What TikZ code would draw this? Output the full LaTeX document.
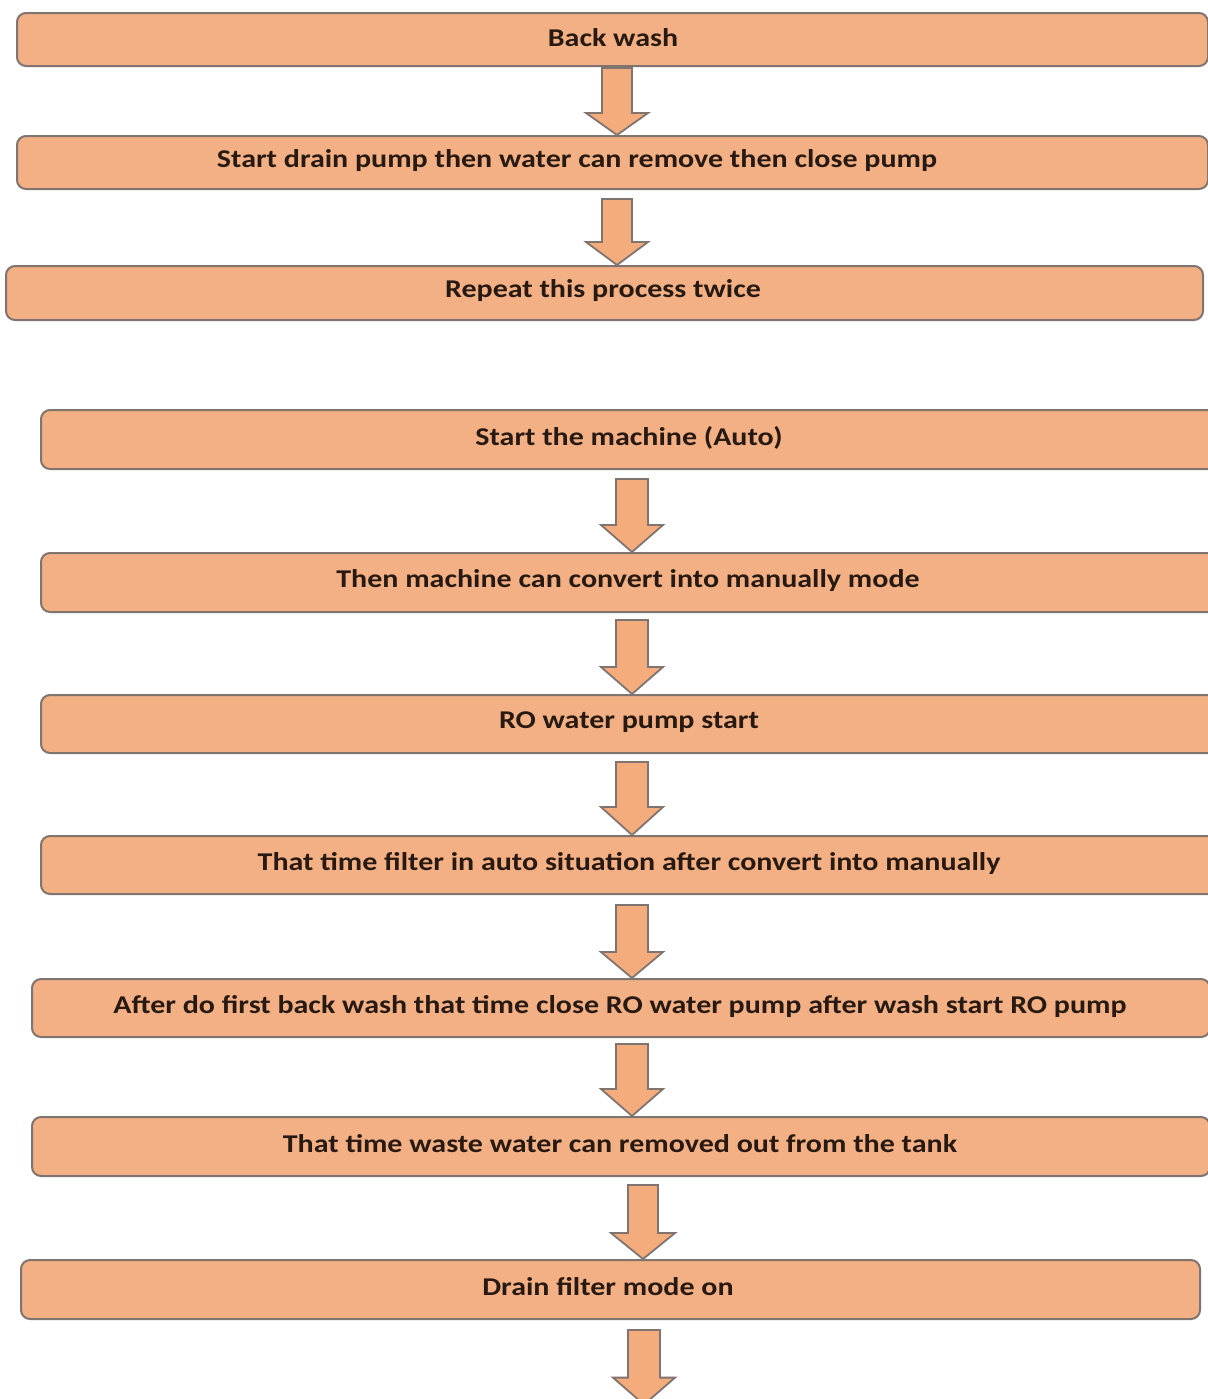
\documentclass[tikz,border=0pt]{standalone}
\usepackage{fontspec}
\setmainfont{Carlito}
\usetikzlibrary{calc}
\definecolor{boxfill}{RGB}{242,176,132}
\definecolor{arrowfill}{RGB}{244,172,124}
\definecolor{edge}{RGB}{128,116,112}
\definecolor{ink}{RGB}{40,26,18}
\tikzset{
  stepbox/.style={draw=edge, line width=1pt, fill=boxfill, rounded corners=4.5pt,
                  inner sep=0pt, anchor=north west},
  steptext/.style={text=ink, font=\bfseries\fontsize{12.8}{14}\selectfont, inner sep=0pt},
  barrow/.style={draw=edge, line width=0.9pt, fill=arrowfill, line join=miter}
}
% wide lettering used for all step captions
\newcommand{\widetext}[1]{\scalebox{1.172}[1]{#1}}
% box from left/top/right/bottom pixel edges
\newcommand{\stepnode}[5]{%
  \node[stepbox, minimum width={(#4-#2)*0.5pt}, minimum height={(#5-#3)*0.5pt}]
    (#1) at (#2,#3) {};}
% block arrow: from node, to node, axis x, gap below source, half shaft, half head, head length
\newcommand{\flowarrow}[7]{%
  \draw[barrow] let \p1=(#1.south), \p2=(#2.north) in
    ({(#3-#5)*0.5pt},{\y1-#4*0.5pt}) -- ({(#3-#5)*0.5pt},{\y2+#7*0.5pt})
    -- ({(#3-#6)*0.5pt},{\y2+#7*0.5pt}) -- ({#3*0.5pt},\y2)
    -- ({(#3+#6)*0.5pt},{\y2+#7*0.5pt}) -- ({(#3+#5)*0.5pt},{\y2+#7*0.5pt})
    -- ({(#3+#5)*0.5pt},{\y1-#4*0.5pt}) -- cycle;}
\begin{document}
\begin{tikzpicture}[x=0.5pt,y=-0.5pt]
\useasboundingbox[fill=white] (0,0) rectangle (1208,1399);

% first procedure
\stepnode{b1}{16}{12}{1207}{65}
\stepnode{b2}{16}{135}{1207}{188}
\stepnode{b3}{5}{265}{1202}{319}
% second procedure
\stepnode{c1}{40}{409}{1219}{468}
\stepnode{c2}{40}{552}{1219}{611}
\stepnode{c3}{40}{694}{1219}{752}
\stepnode{c4}{40}{835}{1219}{893}
\stepnode{c5}{31}{978}{1209}{1036}
\stepnode{c6}{31}{1116}{1209}{1175}
\stepnode{c7}{20}{1259}{1199}{1318}
\node[inner sep=0pt, minimum size=0pt] (tail) at (644,1405) {};

\node[steptext] (t1) at (613,38) {\widetext{Back wash}};
\node[steptext] (t2) at (577,161) {\widetext{Start drain pump then water can remove then close pump}};
\node[steptext] (t3) at (603,291) {\widetext{Repeat this process twice}};
\node[steptext] (u1) at (629,438) {\widetext{Start the machine (Auto)}};
\node[steptext] (u2) at (628,581) {\widetext{Then machine can convert into manually mode}};
\node[steptext] (u3) at (629,722) {\widetext{RO water pump start}};
\node[steptext] (u4) at (629,863) {\widetext{That time filter in auto situation after convert into manually}};
\node[steptext] (u5) at (620,1006) {\widetext{After do first back wash that time close RO water pump after wash start RO pump}};
\node[steptext] (u6) at (620,1144) {\widetext{That time waste water can removed out from the tank}};
\node[steptext] (u7) at (608,1287) {\widetext{Drain filter mode on}};

\flowarrow{b1}{b2}{617}{1}{15}{31}{22}
\flowarrow{b2}{b3}{617}{9}{15}{31}{23}
\flowarrow{c1}{c2}{632}{9}{16}{31}{27}
\flowarrow{c2}{c3}{632}{7}{16}{31}{27}
\flowarrow{c3}{c4}{632}{8}{16}{31}{28}
\flowarrow{c4}{c5}{632}{10}{16}{31}{26}
\flowarrow{c5}{c6}{632}{6}{16}{31}{27}
\flowarrow{c6}{c7}{643}{8}{15}{32}{26}
\flowarrow{c7}{tail}{644}{10}{16}{31}{27}
\end{tikzpicture}
\end{document}
